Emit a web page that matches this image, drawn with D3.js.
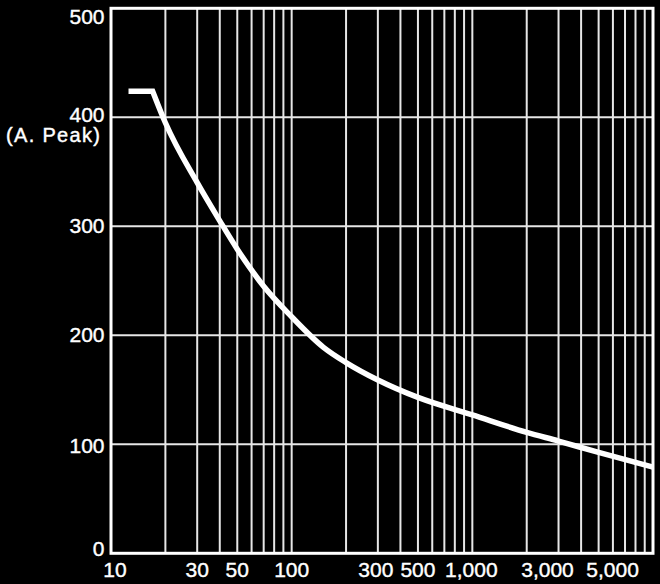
<!DOCTYPE html>
<html>
<head>
<meta charset="utf-8">
<script src="https://cdn.jsdelivr.net/npm/d3@7"></script>
<style>
  html, body { margin: 0; padding: 0; background: #000; }
  svg { display: block; }
  text { font-family: "Liberation Sans", Arial, Helvetica, sans-serif; fill: #fff; stroke: #fff; stroke-width: 0.4px; }
</style>
</head>
<body>
<script>
// ---- data ----
const flatX = [12.5, 17];
const flatY = [424, 424];
const curveX = [17, 20, 30, 40, 50, 70, 100, 150, 200, 300, 500, 1000, 2000, 3000, 5000, 10000];
const curveY = [424, 395, 340, 305, 279, 245, 217, 189, 175, 159, 143, 127, 111, 103, 92.5, 79];
const xTickValues = [10, 30, 50, 100, 300, 500, 1000, 3000, 5000];
const xTickLabels = ["10", "30", "50", "100", "300", "500", "1,000", "3,000", "5,000"];
const yTickValues = [0, 100, 200, 300, 400, 500];
const yTickLabels = ["0", "100", "200", "300", "400", "500"];
const yUnitLabel = "(A. Peak)";

// ---- layout ----
const W = 660, H = 584;
const svg = d3.select("body").append("svg").attr("width", W).attr("height", H);
svg.append("rect").attr("width", W).attr("height", H).attr("fill", "#000");

const x = d3.scaleLog().domain([10, 10000]).range([111, 653]);
const y = d3.scaleLinear().domain([0, 500]).range([553.3, 8.3]);

// vertical log grid lines
const vGrid = [];
for (let dec = 10; dec < 10000; dec *= 10) {
  for (let m = 1; m <= 9; m++) { if (dec * m > 10) vGrid.push(dec * m); }
}
svg.append("g").selectAll("line").data(vGrid).join("line")
  .attr("x1", d => x(d)).attr("x2", d => x(d))
  .attr("y1", y(500)).attr("y2", y(0))
  .attr("stroke", "#e6e6e6").attr("stroke-width", 2);

svg.append("g").selectAll("line").data(yTickValues.filter(v => v > 0 && v < 500)).join("line")
  .attr("x1", x(10)).attr("x2", x(10000))
  .attr("y1", d => y(d)).attr("y2", d => y(d))
  .attr("stroke", "#e6e6e6").attr("stroke-width", 2);

// frame
svg.append("rect")
  .attr("x", x(10)).attr("y", y(500))
  .attr("width", x(10000) - x(10)).attr("height", y(0) - y(500))
  .attr("fill", "none").attr("stroke", "#fff").attr("stroke-width", 3);

// x tick labels
const xLabelShift = {10: 4, 300: -2, 1000: -1, 3000: -11, 5000: 14};
svg.append("g").selectAll("text").data(xTickValues).join("text")
  .attr("x", d => x(d) + (xLabelShift[d] || 0))
  .attr("y", 577)
  .attr("text-anchor", "middle")
  .attr("font-size", 21)
  .text((d, i) => xTickLabels[i]);

// y tick labels
const yLabelShift = {0: -5, 100: 1.5, 200: -1, 300: -1, 400: -3, 500: 8};
svg.append("g").selectAll("text").data(yTickValues).join("text")
  .attr("x", 104.5)
  .attr("y", d => y(d) + (yLabelShift[d] || 0) + 7.5)
  .attr("text-anchor", "end")
  .attr("font-size", 21)
  .text((d, i) => yTickLabels[i]);

// unit label
svg.append("text")
  .attr("x", 6).attr("y", 142)
  .attr("font-size", 20)
  .attr("textLength", 94).attr("lengthAdjust", "spacing")
  .text(yUnitLabel);

// curve
const pts = curveX.map((v, i) => [x(v), y(curveY[i])]);
const lineGen = d3.line().curve(d3.curveMonotoneX);
const curvePath = lineGen(pts);
const startPt = [x(flatX[0]), y(flatY[0])];
const d = `M${startPt[0]},${startPt[1]}L` + curvePath.slice(1);
svg.append("path")
  .attr("d", d)
  .attr("fill", "none")
  .attr("stroke", "#fff")
  .attr("stroke-width", 5.5)
  .attr("stroke-linejoin", "miter");
</script>
</body>
</html>
